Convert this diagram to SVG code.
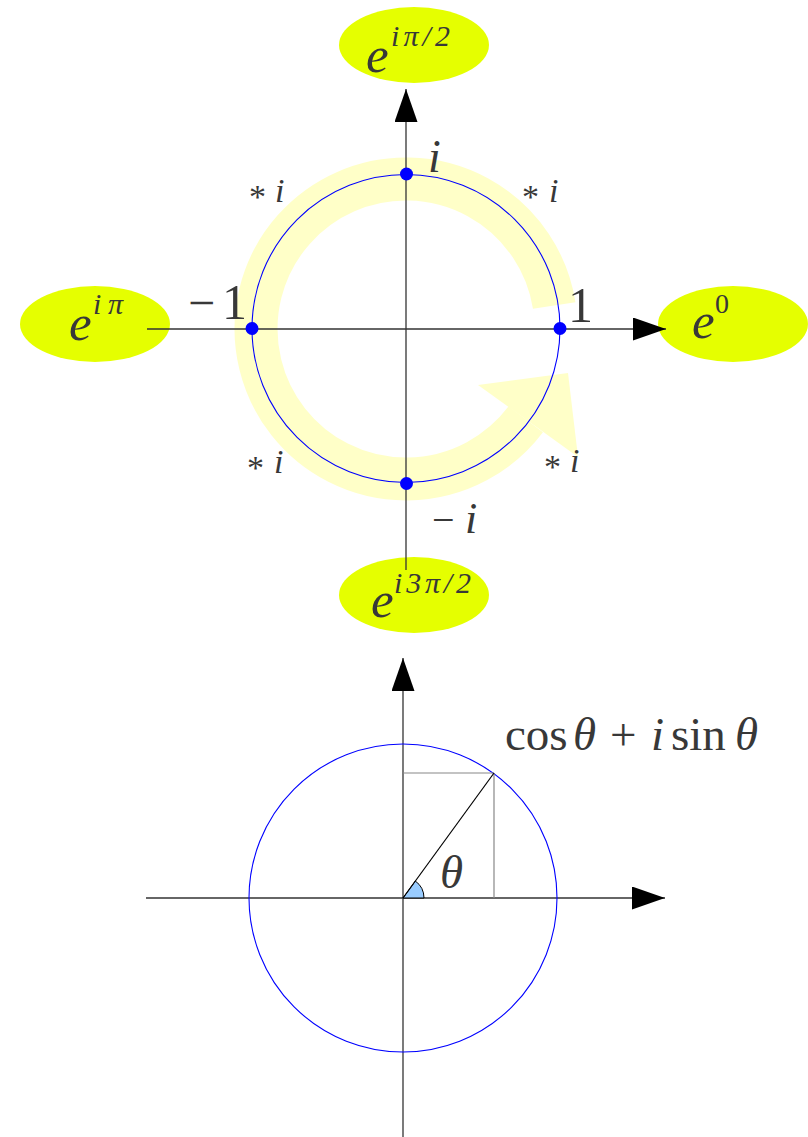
<svg xmlns="http://www.w3.org/2000/svg" width="808" height="1137" viewBox="0 0 808 1137">
<style>
.node ellipse{fill:#e5ff00;stroke:none}
.t{font-family:"Liberation Serif","Times New Roman",serif;fill:#383838}
.it{font-style:italic}
.axis{stroke:#333;stroke-width:1.3;fill:none}
.circ{stroke:#0000ff;stroke-width:1.1;fill:none}
.dot{fill:#0000ff}
.thin{stroke:#888;stroke-width:1.2;fill:none}
</style>
<defs>
<marker id="ah" markerUnits="userSpaceOnUse" markerWidth="34" markerHeight="24" refX="33" refY="11.5" orient="auto">
<path d="M0,0 L33,11.5 L0,23 Z" fill="#000"/>
</marker>
</defs>
<rect width="808" height="1137" fill="#fff"/>

<!-- rotation band -->
<g id="rotation-arrow">
<path d="M554.2,305.5 A150,150 0 1 0 525.8,419.3" fill="none" stroke="#ffffc8" stroke-width="43"/>
<polygon points="478,385 568,373 578,457" fill="#ffffc8"/>
</g>

<!-- nodes (ellipses) -->
<g id="node-e-ipi2" class="node">
<ellipse cx="414" cy="45" rx="75" ry="38"/>
<text class="t it" x="366" y="72" font-size="51">e</text>
<text class="t it" x="391" y="46" font-size="30" textLength="59" lengthAdjust="spacing">iπ/2</text>
</g>
<g id="node-e-ipi" class="node">
<ellipse cx="95" cy="324" rx="75" ry="38"/>
<text class="t it" x="69" y="340" font-size="51">e</text>
<text class="t it" x="93" y="314" font-size="30" textLength="30" lengthAdjust="spacing">iπ</text>
</g>
<g id="node-e-0" class="node">
<ellipse cx="733" cy="324" rx="75" ry="38"/>
<text class="t it" x="692" y="338" font-size="51">e</text>
<text class="t" x="715" y="313" font-size="28">0</text>
</g>
<g id="node-e-i3pi2" class="node">
<ellipse cx="414" cy="595" rx="75" ry="38"/>
<text class="t it" x="371" y="617" font-size="51">e</text>
<text class="t it" x="394" y="593" font-size="30" textLength="77" lengthAdjust="spacing">i3π/2</text>
</g>

<!-- connectors (axes) -->
<g id="connectors">
<line class="axis" x1="406" y1="570" x2="406" y2="89" marker-end="url(#ah)"/>
<line class="axis" x1="147" y1="329" x2="666" y2="329" marker-end="url(#ah)"/>
</g>

<!-- unit circle top -->
<g id="unit-circle">
<circle class="circ" cx="406" cy="328.5" r="154"/>
<circle class="dot" cx="252" cy="328.5" r="6.5"/>
<circle class="dot" cx="560" cy="328.5" r="6.5"/>
<circle class="dot" cx="406.5" cy="174" r="6.5"/>
<circle class="dot" cx="406.5" cy="483.5" r="6.5"/>
</g>

<g id="labels">
<text class="t" x="188" y="319" font-size="48">−</text>
<text class="t" x="222" y="319" font-size="50">1</text>
<text class="t" x="568" y="322" font-size="50">1</text>
<text class="t it" x="428" y="172" font-size="46">i</text>
<text class="t" x="432" y="533" font-size="40">−</text>
<text class="t it" x="465" y="533" font-size="44">i</text>
<text class="t" x="249" y="208" font-size="34">*</text>
<text class="t it" x="275" y="202" font-size="34">i</text>
<text class="t" x="522" y="208" font-size="34">*</text>
<text class="t it" x="549" y="202" font-size="34">i</text>
<text class="t" x="247" y="479" font-size="34">*</text>
<text class="t it" x="274" y="473" font-size="34">i</text>
<text class="t" x="544" y="478" font-size="34">*</text>
<text class="t it" x="570" y="472" font-size="34">i</text>
</g>

<!-- lower diagram -->
<g id="lower-diagram">
<g id="lower-axes">
<line class="axis" x1="403" y1="1137" x2="403" y2="658" marker-end="url(#ah)"/>
<line class="axis" x1="146" y1="898" x2="665" y2="898" marker-end="url(#ah)"/>
</g>
<circle class="circ" cx="403" cy="898" r="154"/>
<line class="thin" x1="403" y1="773" x2="494" y2="773"/>
<line class="thin" x1="494" y1="773" x2="494" y2="898"/>
<path d="M403,898 L424,898 A21,21 0 0 0 415.3,881 Z" fill="#99ccff" stroke="#000" stroke-width="1"/>
<line x1="403" y1="898" x2="494" y2="773" stroke="#000" stroke-width="1.2"/>
<text class="t it" x="440" y="888" font-size="47">θ</text>
<text class="t" font-size="47" y="750"><tspan x="505">cos</tspan><tspan class="it" x="573">θ</tspan><tspan x="610">+</tspan><tspan class="it" x="651">i</tspan><tspan x="671">sin</tspan><tspan class="it" x="735">θ</tspan></text>
</g>
</svg>
